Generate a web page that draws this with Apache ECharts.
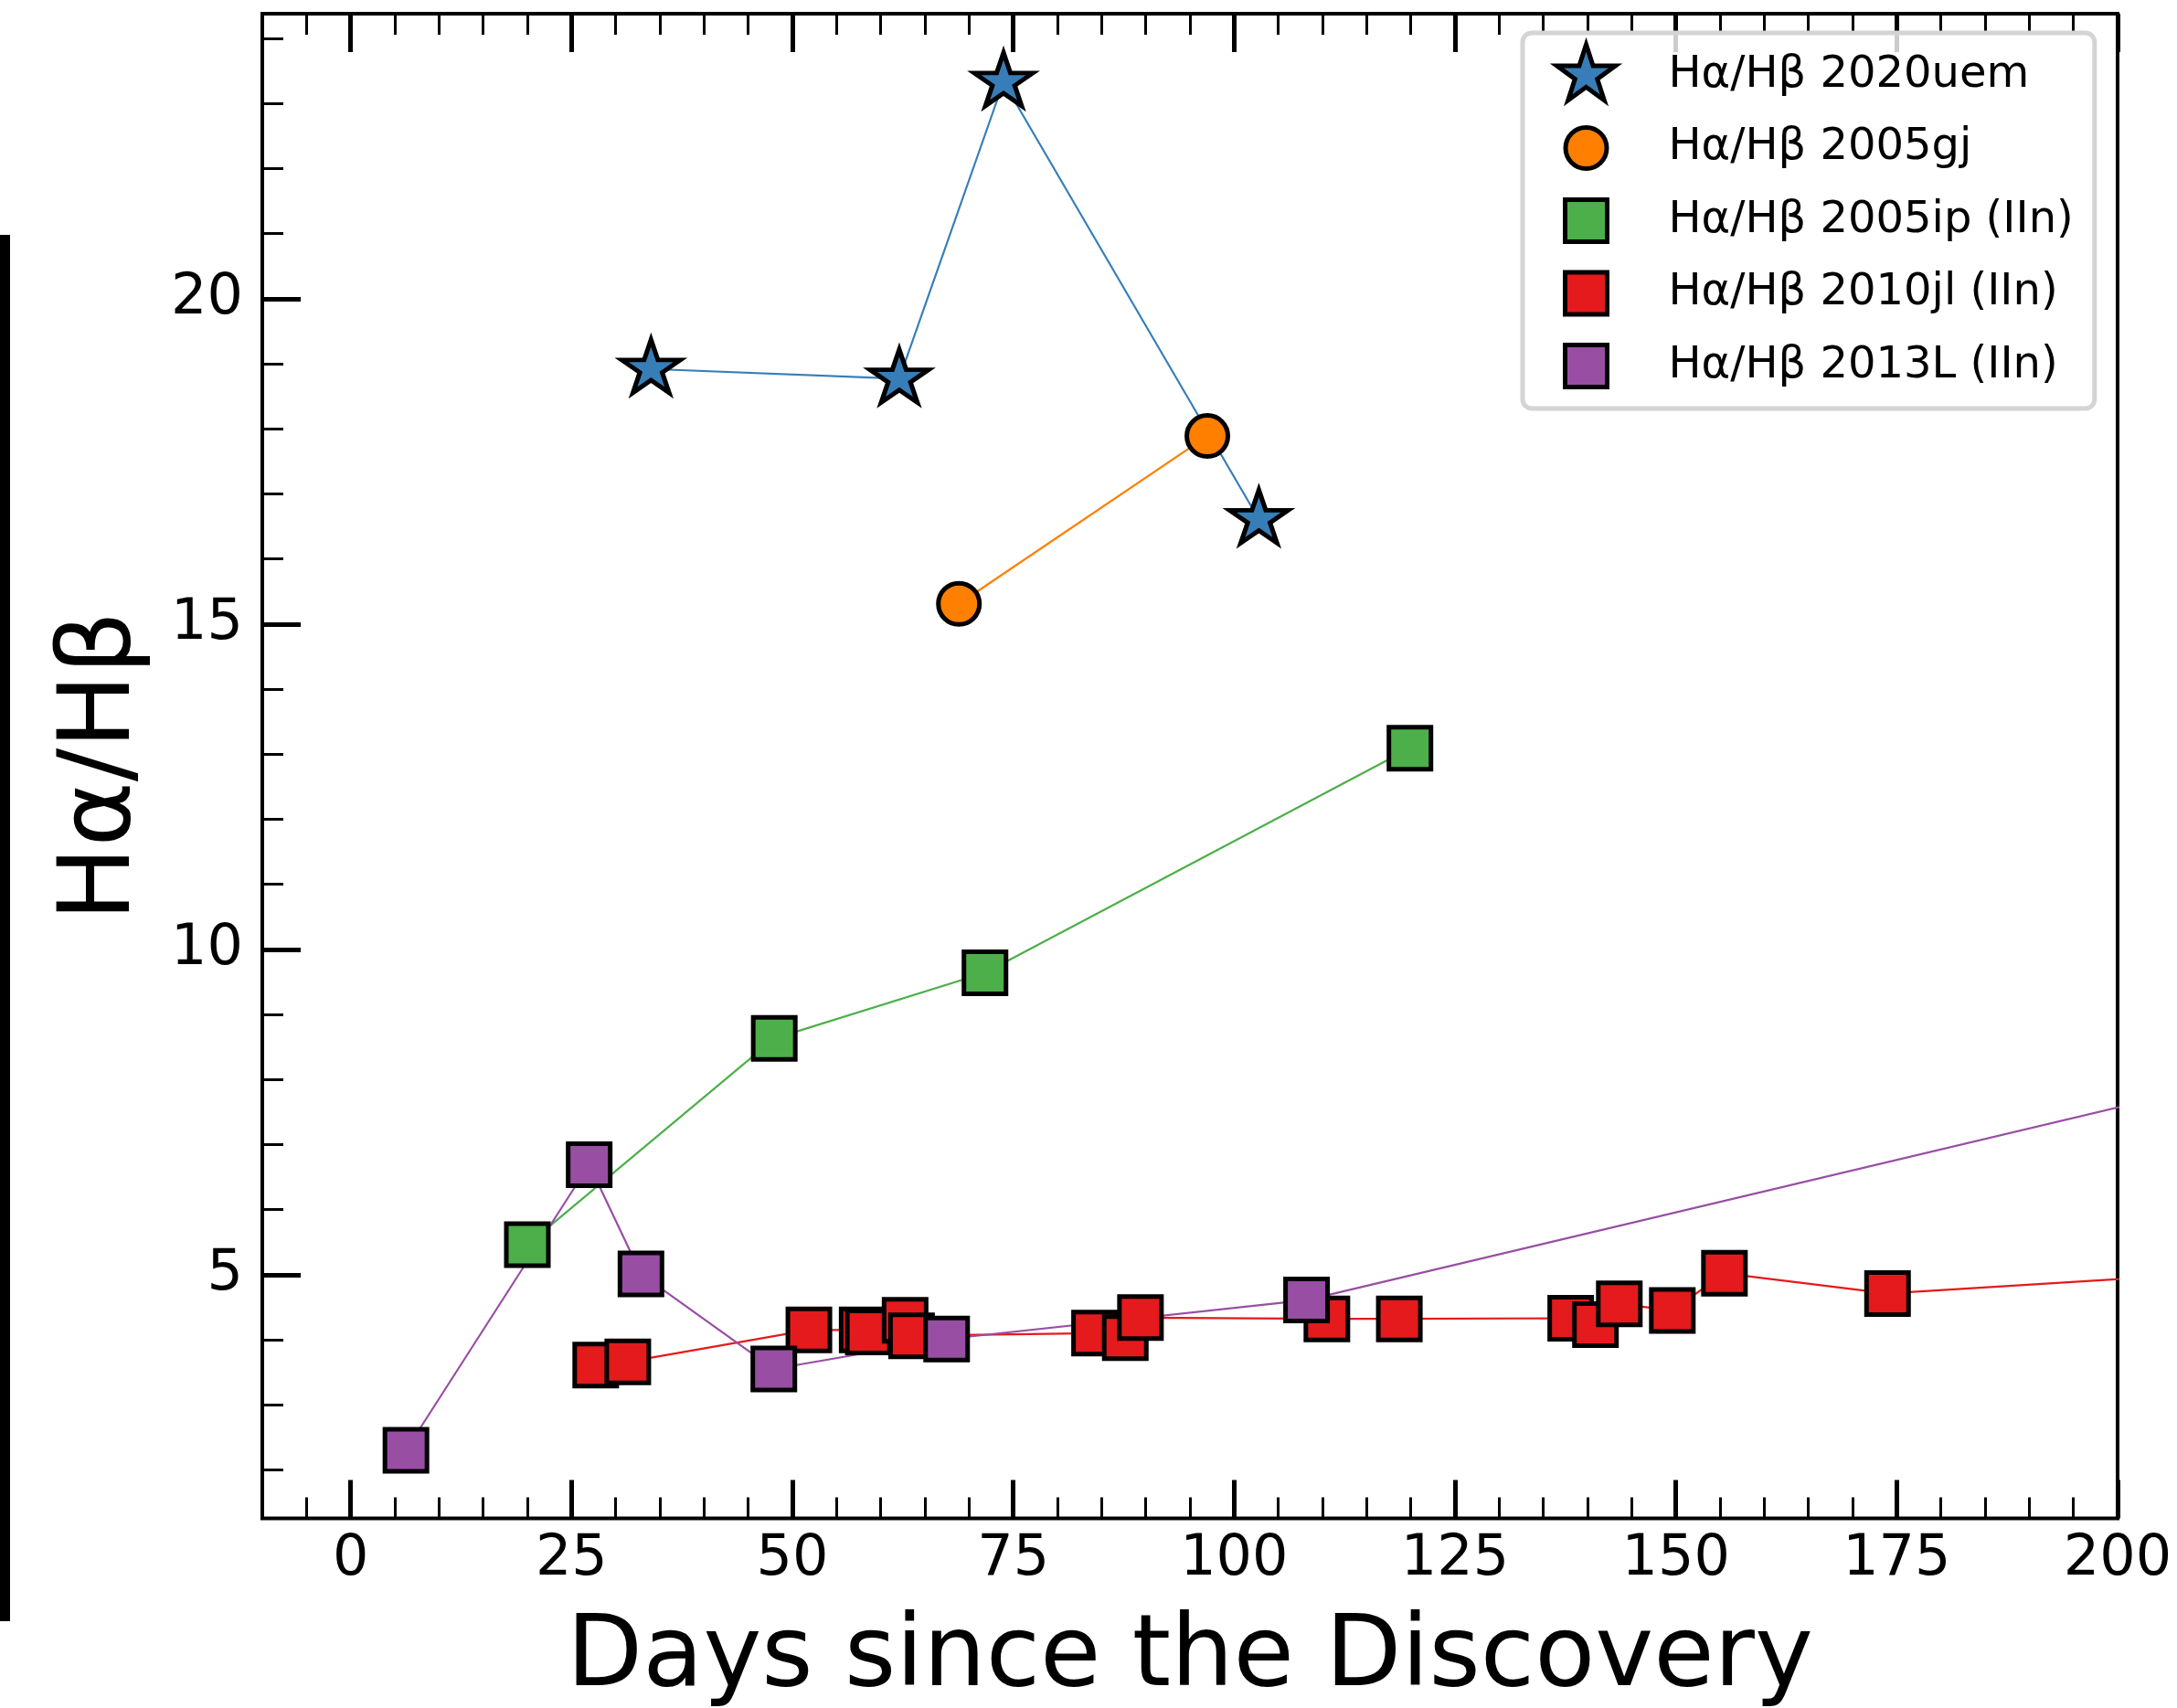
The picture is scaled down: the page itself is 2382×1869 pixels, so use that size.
<!DOCTYPE html>
<html><head><meta charset="utf-8">
<script src="https://cdn.jsdelivr.net/npm/echarts@6/dist/echarts.min.js"></script>
<style>html,body{margin:0;padding:0;background:#fff}#c{width:2382px;height:1869px}</style>
</head><body><div id="c"></div>
<script>
// ---- data ----
const uemDays   = [34.0, 62.1, 73.9, 102.8];
const uemRatio  = [18.92, 18.77, 23.33, 16.61];
const gjDays    = [68.85, 96.97];
const gjRatio   = [15.31, 17.89];
const ipDays    = [20.0, 47.95, 71.8, 119.9];
const ipRatio   = [5.46, 8.63, 9.64, 13.09];
const jlDays    = [27.74, 31.37, 51.87, 57.9, 58.6, 62.76, 63.49, 84.2, 87.68, 89.4, 110.5, 118.7, 138.1, 140.9, 143.6, 149.6, 155.5, 173.96, 250];
const jlRatio   = [3.61, 3.66, 4.15, 4.15, 4.12, 4.30, 4.06, 4.10, 4.03, 4.34, 4.32, 4.32, 4.33, 4.23, 4.55, 4.45, 5.02, 4.71, 5.35];
const l13Days   = [6.26, 27.0, 32.86, 47.9, 67.46, 108.2, 250];
const l13Ratio  = [2.30, 6.69, 5.01, 3.55, 4.01, 4.61, 9.18];
const seriesNames = ['Hα/Hβ 2020uem', 'Hα/Hβ 2005gj', 'Hα/Hβ 2005ip (IIn)', 'Hα/Hβ 2010jl (IIn)', 'Hα/Hβ 2013L (IIn)'];
const xMajorTicks = [0, 25, 50, 75, 100, 125, 150, 175, 200];
const xMinorTicks = [-5, 5, 10, 15, 20, 30, 35, 40, 45, 55, 60, 65, 70, 80, 85, 90, 95, 105, 110, 115, 120, 130, 135, 140, 145, 155, 160, 165, 170, 180, 185, 190, 195];
const yMajorTicks = [5, 10, 15, 20];
const yMinorTicks = [2, 3, 4, 6, 7, 8, 9, 11, 12, 13, 14, 16, 17, 18, 19, 21, 22, 23, 24];
const X_MIN = -10, X_MAX = 200, Y_MIN = 1.254, Y_MAX = 24.38;

// ---- styles ----
const FONT = 'DejaVu Sans';
const COLORS = ['#377eb8', '#ff7f00', '#4daf4a', '#e41a1c', '#984ea3'];
const STAR = 'path://M95.11 0L117.56 69.1L190.22 69.1L131.44 111.8L153.89 180.9L95.11 138.2L36.33 180.9L58.78 111.8L0 69.1L72.66 69.1Z';
const LEG_STAR = 'path://M0 0M120 70M35 1.35L42.56 24.6L67.01 24.6L47.23 38.97L54.78 62.22L35 47.85L15.23 62.22L22.78 38.97L3 24.6L27.45 24.6Z';
const LEG_CIRCLE = 'path://M0 0M120 70M12.5 35A22.5 22.5 0 1 0 57.5 35A22.5 22.5 0 1 0 12.5 35Z';
const LEG_SQUARE = 'path://M0 0M120 70M12 12L58 12L58 58L12 58Z';

const zip = (a, b) => a.map((v, i) => [v, b[i]]);

function xAx(position, ticks, len, w, withLabel) {
  return {
    type: 'value', position: position, min: X_MIN, max: X_MAX, gridIndex: 0,
    axisLine: {show: false, onZero: false}, splitLine: {show: false},
    axisTick: {show: true, inside: true, length: len, customValues: ticks, lineStyle: {color: '#000', width: w}},
    axisLabel: withLabel ? {show: true, customValues: ticks, margin: 14, color: '#000', fontFamily: FONT, fontSize: 62} : {show: false},
    name: withLabel ? 'Days since the Discovery' : '',
    nameLocation: 'middle', nameGap: 100, nameMoveOverlap: false,
    nameTextStyle: {fontFamily: FONT, fontSize: 108, color: '#000'}
  };
}
function yAx(ticks, len, w, withLabel) {
  return {
    type: 'value', position: 'left', min: Y_MIN, max: Y_MAX, gridIndex: 0,
    axisLine: {show: false, onZero: false}, splitLine: {show: false},
    axisTick: {show: true, inside: true, length: len, customValues: ticks, lineStyle: {color: '#000', width: w}},
    axisLabel: withLabel ? {show: true, customValues: ticks, margin: 21, color: '#000', fontFamily: FONT, fontSize: 62} : {show: false},
    name: withLabel ? 'Hα/Hβ' : '',
    nameLocation: 'middle', nameGap: 120, nameMoveOverlap: false,
    nameTextStyle: {fontFamily: FONT, fontSize: 108, color: '#000'}
  };
}

function lineSeries(i, days, ratio, symbol, size, extra) {
  return Object.assign({
    type: 'line', name: seriesNames[i], data: zip(days, ratio),
    xAxisIndex: 0, yAxisIndex: 0,
    symbol: symbol, symbolSize: size, showSymbol: true, clip: true,
    lineStyle: {color: COLORS[i], width: 2.2},
    itemStyle: {color: COLORS[i], borderColor: '#000', borderWidth: 5},
    emphasis: {disabled: true}, animation: false
  }, extra || {});
}

const chart = echarts.init(document.getElementById('c'), null, {renderer: 'canvas'});
chart.setOption({
  animation: false,
  backgroundColor: '#fff',
  textStyle: {fontFamily: FONT},
  grid: {left: 287, top: 15, width: 2030, height: 1646.5, show: true, borderColor: '#000', borderWidth: 4,
         backgroundColor: 'transparent', containLabel: false, outerBoundsMode: 'none'},
  xAxis: [
    xAx('bottom', xMajorTicks, 42, 5, true),
    xAx('bottom', xMinorTicks, 23, 3, false),
    xAx('top', xMajorTicks, 42, 5, false),
    xAx('top', xMinorTicks, 23, 3, false)
  ],
  yAxis: [
    yAx(yMajorTicks, 42, 5, true),
    yAx(yMinorTicks, 23, 3, false)
  ],
  legend: {
    show: true, orient: 'vertical', left: 1666, top: 36,
    padding: [9, 23, 9, 32], itemGap: 4.5, itemWidth: 120, itemHeight: 70,
    symbolKeepAspect: true,
    backgroundColor: 'rgba(255,255,255,0.8)', borderColor: '#d4d4d4', borderWidth: 5, borderRadius: 10,
    textStyle: {fontFamily: FONT, fontSize: 48, lineHeight: 56, color: '#000'},
    itemStyle: {borderColor: '#000', borderWidth: 5},
    selectedMode: false,
    data: [
      {name: seriesNames[0], icon: LEG_STAR},
      {name: seriesNames[1], icon: LEG_CIRCLE},
      {name: seriesNames[2], icon: LEG_SQUARE},
      {name: seriesNames[3], icon: LEG_SQUARE},
      {name: seriesNames[4], icon: LEG_SQUARE}
    ]
  },
  series: [
    lineSeries(0, uemDays, uemRatio, STAR, [64, 61], {symbolKeepAspect: true, symbolOffset: [0, -3]}),
    lineSeries(1, gjDays, gjRatio, 'circle', 45),
    lineSeries(2, ipDays, ipRatio, 'rect', 46),
    lineSeries(3, jlDays, jlRatio, 'rect', 46),
    lineSeries(4, l13Days, l13Ratio, 'rect', 46)
  ],
  graphic: [
    {type: 'rect', left: 0, top: 257, shape: {width: 11, height: 1517}, style: {fill: '#000'}, z: 10}
  ]
});
</script>
</body></html>
